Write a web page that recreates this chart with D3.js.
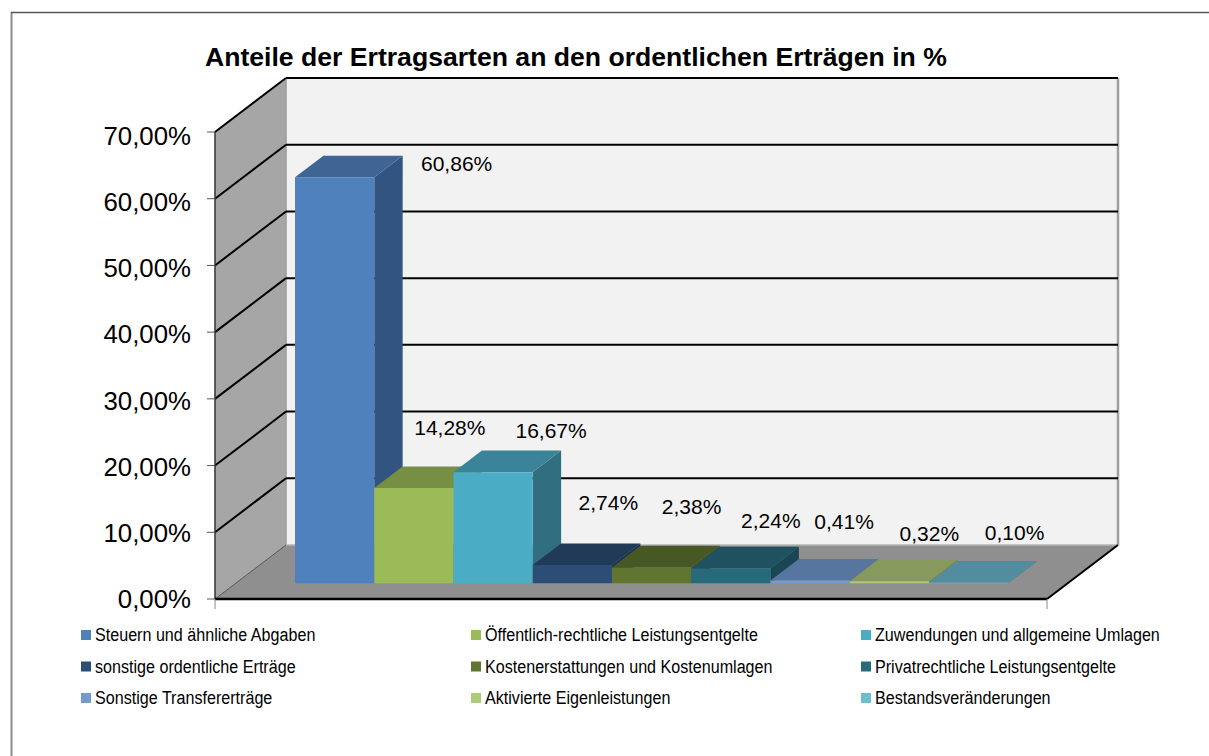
<!DOCTYPE html>
<html><head><meta charset="utf-8">
<style>html,body{margin:0;padding:0;background:#fff}svg{display:block}text{font-family:"Liberation Sans",Arial,sans-serif;fill:#000}</style>
<script src="https://cdn.jsdelivr.net/npm/d3@7"></script>
</head><body><div id="c"></div>
<script>
const chartTitle = "Anteile der Ertragsarten an den ordentlichen Erträgen in %";
const categories = ["Steuern und ähnliche Abgaben","Öffentlich-rechtliche Leistungsentgelte","Zuwendungen und allgemeine Umlagen","sonstige ordentliche Erträge","Kostenerstattungen und Kostenumlagen","Privatrechtliche Leistungsentgelte","Sonstige Transfererträge","Aktivierte Eigenleistungen","Bestandsveränderungen"];
const values = [60.86,14.28,16.67,2.74,2.38,2.24,0.41,0.32,0.10];
const yTicks = [0,10,20,30,40,50,60,70];
const frontColors = ["#4F81BD","#9BBB59","#4BACC6","#2C4D75","#5F7530","#276A7C","#729ACA","#AFC97A","#6FBDD1"];
const topColors = ["#3F6594","#778F45","#3A8398","#213A58","#475825","#1E5261","#56759F","#87995C","#518D9F"];
const sideColors = ["#325480","#64793A","#316E7F","#1C3250","#3D4C20","#1A4653","#4C688C","#76874F","#467D8C"];
const labelShiftX = [122,36,58,36,40,40,34,40,46];
const labelShiftY = [-14,-61,-42,-63,-61,-48,-59,-48,-50];

const W=1209,H=756;
const svg=d3.select("#c").append("svg").attr("width",W).attr("height",H);
const fmt=v=>v.toFixed(2).replace(".",",")+"%";

const frontLeft=215,frontRight=1047,depthX=71,depthY=54;
const x=d3.scaleBand().domain(categories).range([frontLeft,frontRight]).paddingInner(0).paddingOuter(0.75);
const y=d3.scaleLinear().domain([0,70]).range([599,132]);
const yLabel=d3.scaleLinear().domain([0,70]).range([608,145]);
const P=(px,v,d)=>[px+depthX*d,y(v)-depthY*d];
const poly=(pts,fill,stroke)=>svg.append("polygon").attr("points",pts.map(p=>p.join(",")).join(" ")).attr("fill",fill).attr("stroke",stroke||"none");
const line=(a,b,c,w)=>svg.append("line").attr("x1",a[0]).attr("y1",a[1]).attr("x2",b[0]).attr("y2",b[1]).attr("stroke",c).attr("stroke-width",w);

// outer frame
line([11.5,12],[11.5,H],"#8c8c8c",2);
line([11,12.5],[W,12.5],"#555",1.5);

// walls
poly([P(frontLeft,0,1),P(frontRight,0,1),P(frontRight,70,1),P(frontLeft,70,1)],"#F2F2F2");
poly([P(frontLeft,0,0),P(frontLeft,70,0),P(frontLeft,70,1),P(frontLeft,0,1)],"#A6A6A6");
poly([P(frontLeft,0,0),P(frontRight,0,0),P(frontRight,0,1),P(frontLeft,0,1)],"#8F8F8F");
line(P(frontRight,0,1),P(frontRight,70,1),"#A0A0A0",2.5);
line(P(frontLeft,0,1),P(frontLeft,70,1),"#9a9a9a",1.5);
line(P(frontLeft,0,1),P(frontRight,0,1),"#b5b5b5",1.5);
line(P(frontLeft,0,0),P(frontLeft,0,1),"#555",1);

// gridlines
yTicks.filter(t=>t>0).forEach(t=>{
  line(P(frontLeft,t,0),P(frontLeft,t,1),"#000",2);
  line(P(frontLeft,t,1),P(frontRight,t,1),"#000",2);
});

// axes
line(P(frontLeft,0,0),P(frontLeft,70,0),"#333",1.5);
line(P(frontLeft,0,0),P(frontRight,0,0),"#000",2.5);
line(P(frontRight,0,0),P(frontRight,0,1),"#000",2);
yTicks.forEach(t=>line([frontLeft-8,y(t)],[frontLeft,y(t)],"#555",1));
[frontLeft,frontRight].forEach(px=>line([px,599],[px,609],"#888",1));
svg.selectAll("text.ytick").data(yTicks).join("text").attr("class","ytick")
  .attr("x",frontLeft-24).attr("y",t=>yLabel(t)).attr("text-anchor","end")
  .attr("font-size",25.8).text(t=>fmt(t));

// bars
const d0=0.29,d1=0.69;
categories.forEach((c,i)=>{
  const xa=x(c),xb=xa+x.bandwidth(),v=values[i];
  poly([P(xb,0,d0),P(xb,v,d0),P(xb,v,d1),P(xb,0,d1)],sideColors[i]);
  poly([P(xa,v,d0),P(xb,v,d0),P(xb,v,d1),P(xa,v,d1)],topColors[i]);
  poly([P(xa,0,d0),P(xb,0,d0),P(xb,v,d0),P(xa,v,d0)],frontColors[i]);
});

// data labels
svg.selectAll("text.dl").data(values).join("text").attr("class","dl")
  .attr("x",(v,i)=>P(x(categories[i])+x.bandwidth()/2,v,d0)[0]+labelShiftX[i])
  .attr("y",(v,i)=>P(0,v,d0)[1]+labelShiftY[i]+7.5)
  .attr("text-anchor","middle").attr("font-size",21).text(fmt);

// title
svg.append("text").attr("x",205).attr("y",66).attr("font-size",26.6).attr("font-weight","bold").text(chartTitle);

// legend
const colX=d3.scalePoint().domain([0,1,2]).range([81,861]);
const rowY=d3.scalePoint().domain([0,1,2]).range([635,698]);
categories.forEach((c,i)=>{
  const lx=colX(i%3),ly=rowY(Math.floor(i/3));
  svg.append("rect").attr("x",lx).attr("y",ly-5).attr("width",10).attr("height",10).attr("fill",frontColors[i]);
  svg.append("text").attr("x",lx+14).attr("y",ly+6).attr("font-size",18).text(c)
    .each(function(){const w=this.getComputedTextLength();this.setAttribute("textLength",w*0.895);this.setAttribute("lengthAdjust","spacingAndGlyphs");});
});
</script></body></html>
